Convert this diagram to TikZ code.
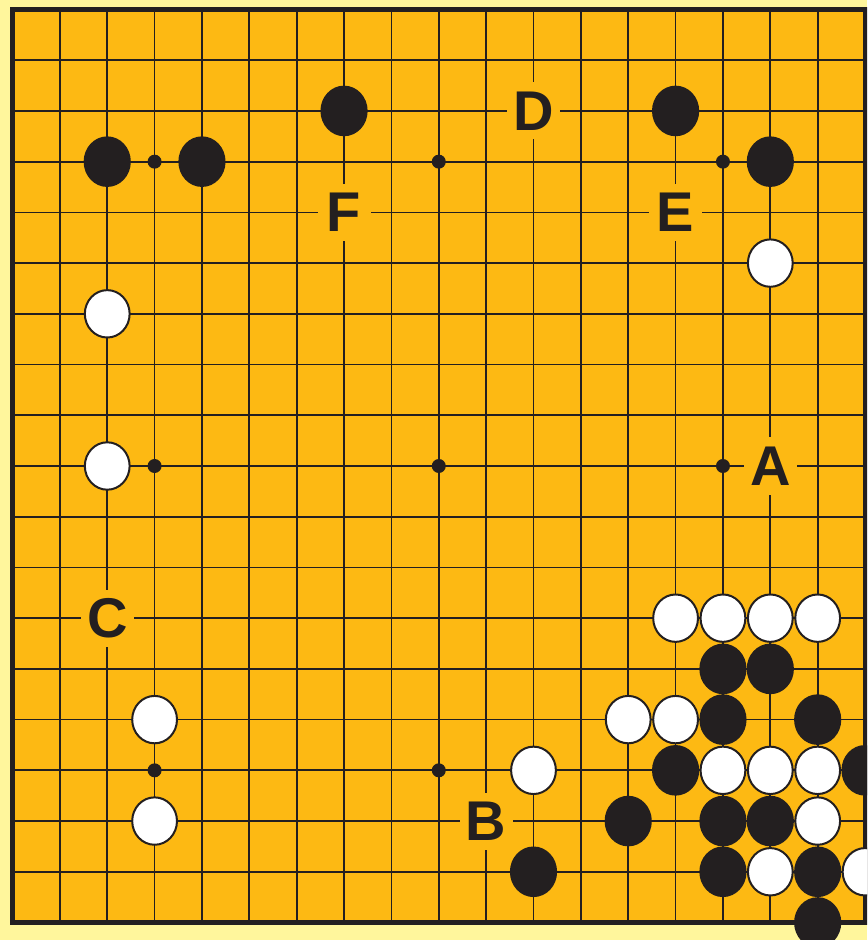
\documentclass[tikz,border=0pt]{standalone}
\usepackage{fontspec}
\setmainfont{Liberation Sans}
\definecolor{board}{HTML}{FDB913}
\definecolor{paper}{HTML}{FFF69C}
\definecolor{ink}{HTML}{231F20}
\tikzset{
  gridline/.style={draw=ink,line width=1.7pt},
  boardedge/.style={draw=ink,line width=5pt},
  hoshi/.style={fill=ink},
  blackstone/.style={fill=ink},
  whitestone/.style={fill=white,draw=ink,line width=2pt},
  pointlabel/.style={fill=board,inner sep=0pt,minimum width=53pt,minimum height=57pt,font=\bfseries\fontsize{56}{56}\selectfont,text=ink}
}

\begin{document}
\begin{tikzpicture}[x=47.36pt,y=-50.72pt]
\useasboundingbox (-0.264,-0.187) rectangle (18.043,18.345);
\fill[paper] (-0.264,-0.187) rectangle (18.043,18.345);
\clip (-0.264,-0.187) rectangle (18.043,18.345);

% board and grid
\fill[board] (0,0) rectangle (18,18);
\foreach \k in {1,...,17} {
  \draw[gridline] (\k,0) -- (\k,18);
  \draw[gridline] (0,\k) -- (18,\k);
}
\draw[boardedge] (0,0) rectangle (18,18);
\foreach \i/\j in {3/3,9/3,15/3,3/9,9/9,15/9,3/15,9/15,15/15}
  \fill[hoshi] (\i,\j) circle[radius=7pt];

% letters
\node[pointlabel] (A) at (16,9) {A};
\node[pointlabel] (B) at (10,16) {B};
\node[pointlabel] (C) at (2,12) {C};
\node[pointlabel] (D) at (11,2) {D};
\node[pointlabel] (E) at (14,4) {E};
\node[pointlabel] (F) at (7,4) {F};

% stones
\foreach \i/\j in {7/2,14/2,2/3,4/3,16/3,15/13,16/13,15/14,17/14,14/15,18/15,
                   13/16,15/16,16/16,11/17,15/17,17/17,17/18}
  \fill[blackstone] (\i,\j) ellipse[x radius=23.6pt,y radius=25.3pt];
\foreach \i/\j in {16/5,2/6,2/9,14/12,15/12,16/12,17/12,3/14,13/14,14/14,
                   11/15,15/15,16/15,17/15,3/16,17/16,16/17,18/17}
  \draw[whitestone] (\i,\j) ellipse[x radius=22.4pt,y radius=23.7pt];
\end{tikzpicture}
\end{document}
